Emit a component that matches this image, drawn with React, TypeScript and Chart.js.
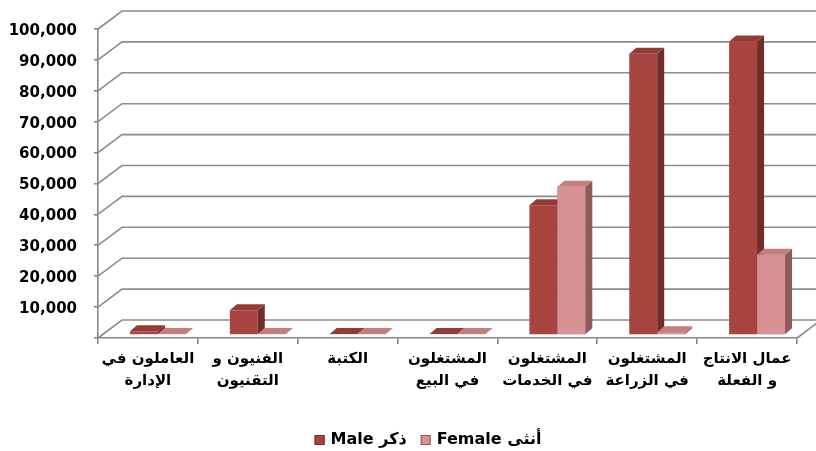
import React, { useEffect, useRef } from "react";
import { Chart, registerables } from "chart.js";

Chart.register(...registerables);

const categories: string[][] = [
  ["العاملون في", "الإدارة"],
  ["الفنيون و", "التقنيون"],
  ["الكتبة"],
  ["المشتغلون", "في البيع"],
  ["المشتغلون", "في الخدمات"],
  ["المشتغلون", "في الزراعة"],
  ["عمال الانتاج", "و الفعلة"],
];
const maleValues = [1200, 8000, 300, 300, 42000, 91000, 95000];
const femaleValues = [300, 300, 300, 300, 48000, 900, 26000];
const seriesNames = ["Male ذكر", "Female أنثى"];
const yMin = 0;
const yMax = 100000;
const yStep = 10000;

const FRONT = ["#A8443F", "#D69292"];
const SIDE = ["#712D2A", "#8E5B5B"];
const TOP = ["#953B37", "#C47E7E"];

const WALL_DX = 24;
const WALL_DY = -18;
const BAR_DX = 10;
const BAR_DY = -3;
const DEPTH_DX = 7;
const DEPTH_DY = -6;
const FONT = "'DejaVu Sans', Arial, sans-serif";

const wallPlugin = {
  id: "wall3d",
  beforeDatasetsDraw(chart: any) {
    const { ctx, chartArea, scales } = chart;
    const y = scales.y;
    ctx.save();
    ctx.strokeStyle = "#8c8c8c";
    ctx.lineWidth = 1.6;
    for (const t of y.ticks) {
      const py = y.getPixelForValue(t.value);
      ctx.beginPath();
      ctx.moveTo(chartArea.left, py);
      ctx.lineTo(chartArea.left + WALL_DX, py + WALL_DY);
      ctx.lineTo(chart.width, py + WALL_DY);
      ctx.stroke();
    }
    ctx.beginPath();
    ctx.moveTo(chartArea.right, chartArea.bottom);
    ctx.lineTo(chartArea.right + WALL_DX, chartArea.bottom + WALL_DY);
    ctx.stroke();
    ctx.restore();
    ctx.save();
    ctx.translate(BAR_DX, BAR_DY);
  },
  afterDatasetsDraw(chart: any) {
    const ctx = chart.ctx;
    chart.data.datasets.forEach((_ds: any, i: number) => {
      const meta = chart.getDatasetMeta(i);
      meta.data.forEach((bar: any) => {
        const { x, y, width, base } = bar.getProps(["x", "y", "width", "base"], true);
        const l = x - width / 2;
        const r = x + width / 2;
        if (i > 0) {
          ctx.fillStyle = FRONT[i];
          ctx.fillRect(l, Math.min(y, base), width, Math.abs(base - y));
        }
        ctx.fillStyle = SIDE[i];
        ctx.beginPath();
        ctx.moveTo(r, y);
        ctx.lineTo(r + DEPTH_DX, y + DEPTH_DY);
        ctx.lineTo(r + DEPTH_DX, base + DEPTH_DY);
        ctx.lineTo(r, base);
        ctx.closePath();
        ctx.fill();
        ctx.fillStyle = TOP[i];
        ctx.beginPath();
        ctx.moveTo(l, y);
        ctx.lineTo(l + DEPTH_DX, y + DEPTH_DY);
        ctx.lineTo(r + DEPTH_DX, y + DEPTH_DY);
        ctx.lineTo(r, y);
        ctx.closePath();
        ctx.fill();
      });
    });
    ctx.restore();
  },
  afterDraw(chart: any) {
    const ctx = chart.ctx;
    ctx.save();
    ctx.font = `bold 16px ${FONT}`;
    ctx.textBaseline = "middle";
    ctx.textAlign = "left";
    const box = 10;
    const gap = 6;
    const itemGap = 14;
    const widths = seriesNames.map((n) => ctx.measureText(n).width);
    const total = widths.reduce((a, w) => a + box + gap + w, 0) + itemGap * (seriesNames.length - 1);
    let x = 428 - total / 2;
    const cy = 440;
    seriesNames.forEach((n, i) => {
      ctx.fillStyle = FRONT[i];
      ctx.fillRect(x, cy - box / 2, box, box);
      ctx.strokeStyle = SIDE[i];
      ctx.lineWidth = 1;
      ctx.strokeRect(x + 0.5, cy - box / 2 + 0.5, box - 1, box - 1);
      ctx.fillStyle = "#000";
      ctx.fillText(n, x + box + gap, cy);
      x += box + gap + widths[i] + itemGap;
    });
    ctx.restore();
  },
};

export default function App() {
  const ref = useRef<HTMLCanvasElement | null>(null);
  useEffect(() => {
    if (!ref.current) return;
    const chart = new Chart(ref.current, {
      type: "bar",
      data: {
        labels: categories,
        datasets: [
          {
            label: seriesNames[0],
            data: maleValues,
            backgroundColor: FRONT[0],
            categoryPercentage: 0.56,
            barPercentage: 1,
          },
          {
            label: seriesNames[1],
            data: femaleValues,
            backgroundColor: FRONT[1],
            categoryPercentage: 0.56,
            barPercentage: 1,
          },
        ],
      },
      options: {
        animation: false,
        responsive: true,
        maintainAspectRatio: false,
        layout: { padding: { left: 0, right: 19, top: 29, bottom: 0 } },
        plugins: {
          tooltip: { enabled: false },
          legend: { display: false },
        },
        scales: {
          x: {
            grid: {
              drawOnChartArea: false,
              drawTicks: true,
              tickLength: 6,
              color: "#868686",
              lineWidth: 1.6,
            },
            border: { display: true, color: "#868686", width: 1.6 },
            ticks: {
              color: "#000",
              padding: 4,
              maxRotation: 0,
              autoSkip: false,
              font: { family: FONT, size: 15, weight: "bold", lineHeight: 1.45 },
            },
            afterFit: (s: any) => {
              s.height = 113;
            },
          },
          y: {
            min: yMin,
            max: yMax,
            grid: {
              drawOnChartArea: false,
              drawTicks: true,
              tickLength: 4,
              color: "#868686",
              lineWidth: 1.6,
            },
            border: { display: true, color: "#868686", width: 1.6 },
            ticks: {
              stepSize: yStep,
              padding: 17,
              labelOffset: 2,
              color: "#000",
              font: { family: FONT, size: 15, weight: "bold" },
              callback: (v: any) => (Number(v) === 0 ? "" : Number(v).toLocaleString("en-US")),
            },
            afterFit: (s: any) => {
              s.width = 98;
            },
          },
        },
      },
      plugins: [wallPlugin],
    });
    return () => chart.destroy();
  }, []);
  return (
    <div style={{ position: "fixed", left: 0, top: 0, width: 816, height: 451, background: "#fff" }}>
      <canvas ref={ref} />
    </div>
  );
}
